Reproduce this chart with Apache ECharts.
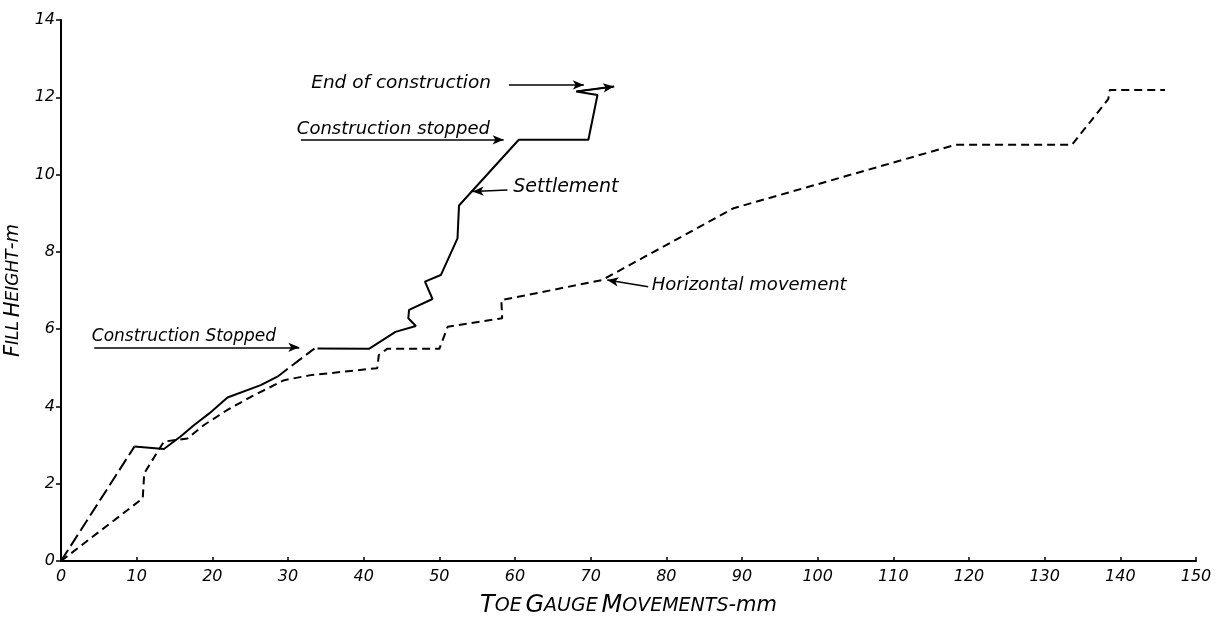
<!DOCTYPE html>
<html>
<head>
<meta charset="utf-8">
<script src="https://cdn.jsdelivr.net/npm/echarts/dist/echarts.min.js"></script>
<style>
html,body{margin:0;padding:0;background:#fff;}
#c{width:1219px;height:623px;}
</style>
</head>
<body>
<div id="c"></div>
<script>
// ---- axis ticks ----
const xTicks = [0,10,20,30,40,50,60,70,80,90,100,110,120,130,140,150];
const yTicks = [0,2,4,6,8,10,12,14];

// ---- Settlement curve (pieces: long-dashed / solid) ----
const settlementDashedA = [[0,0],[9.7,2.96]];
const settlementSolidA = [[9.7,2.96],[13.6,2.90],[15.8,3.22],[17.6,3.52],[19.6,3.82],[22.0,4.23],[26.4,4.55],[28.6,4.77]];
const settlementDashedB = [[28.6,4.77],[33.5,5.50]];
const settlementSolidB = [[33.9,5.50],[40.7,5.49],[44.2,5.93],[46.9,6.08],[45.9,6.28],[46.0,6.50],[49.1,6.78],[48.1,7.23],[50.2,7.40],[52.4,8.35],[52.6,9.20],[60.5,10.90],[69.7,10.90],[70.9,12.06],[68.1,12.15],[73.1,12.28]];

// ---- Horizontal movement curve (short-dashed) ----
const horizontalMovement = [[0,0],[10.8,1.62],[11.0,2.27],[13.6,3.09],[16.7,3.17],[18.9,3.52],[22.0,3.91],[25.1,4.25],[29.5,4.68],[33.0,4.81],[41.8,4.99],[42.0,5.33],[43.1,5.49],[50.0,5.49],[51.1,6.06],[58.3,6.28],[58.2,6.75],[71.5,7.27],[88.9,9.13],[118.2,10.77],[133.6,10.77],[138.4,11.95],[138.6,12.19],[145.9,12.19]];

// ---- annotation texts ----
const noteTexts = ['End of construction','Construction stopped','Settlement','Construction Stopped','Horizontal movement'];

const FONT = 'DejaVu Sans';
const chart = echarts.init(document.getElementById('c'), null, {renderer:'canvas'});

const last = settlementSolidB.length - 1;
const arrowLines = [
  [{coord:[59.2,12.32]},{coord:[69.1,12.32]}],
  [{coord:[31.7,10.90]},{coord:[58.5,10.90]}],
  [{coord:[59.0,9.60]},{coord:[54.4,9.56]}],
  [{coord:[4.4,5.53]},{coord:[31.5,5.53]}],
  [{coord:[77.6,7.10]},{coord:[72.2,7.27]}],
  [{coord:settlementSolidB[last-1]},{coord:settlementSolidB[last]}]
];
const notePoints = [
  {coord:[33.0,12.36], value:noteTexts[0], label:{fontSize:18.5}},
  {coord:[31.1,11.17], value:noteTexts[1], label:{fontSize:18}},
  {coord:[59.7,9.68], value:noteTexts[2], label:{fontSize:19}},
  {coord:[4.0,5.82], value:noteTexts[3], label:{fontSize:17}},
  {coord:[78.0,7.14], value:noteTexts[4], label:{fontSize:18}}
];

function seg(data, type){
  return {type:'line', data:data, showSymbol:false, symbol:'none', silent:true,
    lineStyle:{color:'#000', width:2, type:type}, z:3, animation:false};
}

const option = {
  animation:false,
  backgroundColor:'#fff',
  grid:{left:61, right:23, top:20, bottom:62, containLabel:false, outerBoundsMode:'none'},
  xAxis:{
    type:'value', min:0, max:150, interval:10,
    axisLine:{show:true, onZero:false, lineStyle:{color:'#000', width:2}},
    axisTick:{show:true, inside:true, length:4, lineStyle:{color:'#000', width:1.5}},
    axisLabel:{color:'#000', fontFamily:FONT, fontStyle:'italic', fontSize:16, margin:8},
    splitLine:{show:false},
    name:'{c|T}{s|OE} {c|G}{s|AUGE} {c|M}{s|OVEMENTS}{n|-mm}',
    nameLocation:'middle', nameGap:33,
    nameTextStyle:{color:'#000', fontFamily:FONT, fontStyle:'italic',
      rich:{c:{fontSize:24, fontFamily:FONT, fontStyle:'italic', color:'#000'},
            s:{fontSize:19, fontFamily:FONT, fontStyle:'italic', color:'#000'},
            n:{fontSize:21, fontFamily:FONT, fontStyle:'italic', color:'#000'}}}
  },
  yAxis:{
    type:'value', min:0, max:14, interval:2,
    axisLine:{show:true, onZero:false, lineStyle:{color:'#000', width:2}},
    axisTick:{show:true, inside:false, length:5, lineStyle:{color:'#000', width:1.5}},
    axisLabel:{color:'#000', fontFamily:FONT, fontStyle:'italic', fontSize:16, margin:6},
    splitLine:{show:false},
    name:'{c|F}{s|ILL} {c|H}{s|EIGHT}{n|-m}',
    nameLocation:'middle', nameGap:37, nameRotate:90,
    nameTextStyle:{color:'#000', fontFamily:FONT, fontStyle:'italic',
      rich:{c:{fontSize:21, fontFamily:FONT, fontStyle:'italic', color:'#000'},
            s:{fontSize:17, fontFamily:FONT, fontStyle:'italic', color:'#000'},
            n:{fontSize:19, fontFamily:FONT, fontStyle:'italic', color:'#000'}}}
  },
  series:[
    seg(settlementDashedA, [13,5]),
    seg(settlementSolidA, 'solid'),
    seg(settlementDashedB, [13,5]),
    Object.assign(seg(settlementSolidB, 'solid'), {
      markLine:{silent:true, symbol:['none','arrow'], symbolSize:[7,11], precision:4,
        lineStyle:{color:'#000', width:1.5, type:'solid'}, label:{show:false},
        emphasis:{disabled:true}, animation:false, data:arrowLines},
      markPoint:{silent:true, symbol:'circle', symbolSize:1, itemStyle:{color:'rgba(0,0,0,0)'},
        label:{show:true, position:'right', distance:0, color:'#000', fontFamily:FONT, fontStyle:'italic',
          formatter:function(p){return p.value;}},
        animation:false, data:notePoints}
    }),
    seg(horizontalMovement, [8,5])
  ]
};
chart.setOption(option);
</script>
</body>
</html>
